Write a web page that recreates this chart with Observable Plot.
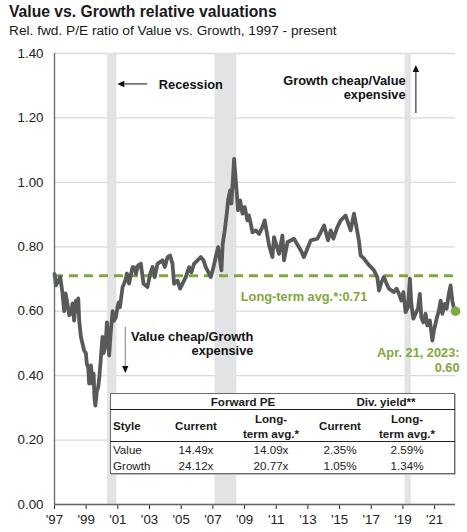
<!DOCTYPE html>
<html>
<head>
<meta charset="utf-8">
<script src="https://cdn.jsdelivr.net/npm/d3@7"></script>
<script src="https://cdn.jsdelivr.net/npm/@observablehq/plot@0.6"></script>
<style>
  html, body { margin: 0; padding: 0; background: #fff; }
  #wrap { position: relative; width: 467px; height: 532px; font-family: "Liberation Sans", Arial, sans-serif; color: #1a1a1a; overflow: hidden; }
  .title { position: absolute; left: 9px; top: 4px; font-size: 15.7px; font-weight: bold; line-height: 16px; white-space: nowrap; }
  .subtitle { position: absolute; left: 9px; top: 24px; font-size: 13.7px; line-height: 13px; white-space: nowrap; }
  #chart { position: absolute; left: 0; top: 38px; }
  .tbox { position: absolute; background: #fff; border: 1.5px solid #6a6a6a; box-sizing: border-box; box-shadow: 1px 1px 0 #bbb; }
  .tline { position: absolute; height: 0; border-top: 1px solid #222; }
  .cell { position: absolute; font-size: 11.6px; white-space: pre; color: #1a1a1a; }
  .b { font-weight: bold; }
</style>
</head>
<body>
<div id="wrap">
  <div class="title">Value vs. Growth relative valuations</div>
  <div class="subtitle">Rel. fwd. P/E ratio of Value vs. Growth, 1997 - present</div>
  <div id="chart"></div>
</div>
<script>
// ---- data (x positions are decimal years along the chart's axis) ----
const years = [
  1997.00,1997.09,1997.20,1997.36,1997.51,1997.61,1997.70,1997.78,1997.93,1998.03,1998.14,1998.24,1998.35,1998.45,1998.50,1998.56,1998.67,1998.77,1998.87,1998.98,
  1999.04,1999.13,1999.19,1999.30,1999.40,1999.47,1999.52,1999.58,1999.68,1999.76,1999.84,1999.93,2000.03,2000.10,2000.18,2000.24,2000.31,2000.40,2000.45,2000.56,
  2000.67,2000.75,2000.87,2000.98,2001.05,2001.13,2001.30,2001.40,2001.50,2001.57,2001.71,2001.85,2001.93,2002.07,2002.14,2002.28,2002.45,2002.62,2002.87,2003.04,
  2003.19,2003.33,2003.50,2003.82,2003.97,2004.14,2004.30,2004.45,2004.55,2004.77,2004.93,2005.08,2005.29,2005.50,2005.65,2005.81,2006.03,2006.24,2006.41,2006.55,
  2006.87,2007.04,2007.18,2007.33,2007.45,2007.54,2007.62,2007.75,2007.88,2007.96,2008.09,2008.17,2008.26,2008.34,2008.43,2008.51,2008.59,2008.72,2008.87,2009.01,
  2009.18,2009.28,2009.39,2009.50,2009.71,2009.92,2010.13,2010.27,2010.55,2010.76,2010.86,2011.18,2011.39,2011.49,2011.71,2012.12,2012.55,2012.75,2013.18,2013.60,
  2014.02,2014.27,2014.44,2014.61,2014.86,2015.07,2015.38,2015.70,2015.91,2016.22,2016.33,2016.54,2016.79,2017.17,2017.38,2017.49,2017.64,2017.80,2017.97,2018.12,
  2018.43,2018.60,2018.75,2018.90,2019.03,2019.17,2019.32,2019.44,2019.53,2019.66,2019.80,2019.95,2020.07,2020.16,2020.29,2020.43,2020.54,2020.70,2020.86,2020.96,
  2021.13,2021.27,2021.38,2021.49,2021.63,2021.76,2021.90,2022.01,2022.12,2022.22,2022.32
];
const ratios = [
  0.716,0.680,0.690,0.706,0.654,0.600,0.655,0.633,0.587,0.593,0.624,0.571,0.633,0.600,0.640,0.571,0.520,0.499,0.478,0.470,
  0.437,0.425,0.375,0.432,0.375,0.406,0.333,0.307,0.354,0.364,0.400,0.457,0.520,0.470,0.487,0.509,0.565,0.500,0.462,0.540,
  0.600,0.570,0.580,0.613,0.627,0.612,0.675,0.686,0.700,0.717,0.686,0.720,0.737,0.736,0.716,0.742,0.747,0.685,0.675,0.716,
  0.737,0.706,0.747,0.758,0.737,0.768,0.773,0.747,0.685,0.695,0.670,0.685,0.706,0.737,0.721,0.747,0.758,0.768,0.758,0.737,
  0.706,0.737,0.768,0.799,0.758,0.727,0.809,0.851,0.903,0.944,0.975,0.934,1.006,1.073,1.016,0.965,0.913,0.944,0.903,0.923,
  0.882,0.897,0.872,0.845,0.851,0.840,0.861,0.882,0.804,0.768,0.830,0.778,0.835,0.758,0.814,0.825,0.789,0.768,0.820,0.825,
  0.866,0.820,0.851,0.825,0.861,0.882,0.897,0.851,0.903,0.820,0.773,0.763,0.747,0.727,0.706,0.664,0.690,0.706,0.685,0.670,
  0.659,0.670,0.654,0.633,0.659,0.597,0.613,0.701,0.623,0.577,0.592,0.608,0.654,0.581,0.566,0.592,0.556,0.571,0.509,0.540,
  0.577,0.602,0.633,0.592,0.623,0.608,0.654,0.680,0.633,0.608,0.600
];
const recessionStart = [2000.35, 2007.14, 2019.13];
const recessionEnd   = [2000.94, 2008.51, 2019.53];
const longTermAvg = 0.71;
const xDomain = [1997, 2022.32];
const yDomain = [0, 1.4];
const xTicks = [1997,1999,2001,2003,2005,2007,2009,2011,2013,2015,2017,2019,2021];
const yTicks = [0,0.2,0.4,0.6,0.8,1.0,1.2,1.4];

const tableGroups = ["Forward PE", "Div. yield**"];
const tableHeaders = ["Style", "Current", "Long-\nterm avg.*", "Current", "Long-\nterm avg.*"];
const tableStyles = ["Value", "Growth"];
const tableValues = [["14.49x","14.09x","2.35%","2.59%"],["24.12x","20.77x","1.05%","1.34%"]];

const avgLabel = "Long-term avg.*:0.71";
const lastLabel = "Apr. 21, 2023:\n0.60";

// ---- build ----
const series = years.map((x, i) => ({x, y: ratios[i]}));
const recessions = recessionStart.map((s, i) => ({x1: s, x2: recessionEnd[i]}));
const last = series[series.length - 1];
const green = "#80a83c";
const lineColor = "#58595b";

const blackStart = [{x: 2003.59, y: 1.304, text: "Recession"}];
const blackEnd = [
  {x: 2019.17, y: 1.295, text: "Growth cheap/Value\nexpensive"},
  {x: 2009.56, y: 0.500, text: "Value cheap/Growth\nexpensive"}
];
const greenStart = [{x: 2008.76, y: 0.646, text: avgLabel}];
const greenEnd = [{x: 2022.58, y: 0.449, text: lastLabel}];
const arrows = [
  {x1: 2002.89, y1: 1.304, x2: 2001.0, y2: 1.304, stroke: "#222"},
  {x1: 2019.85, y1: 1.214, x2: 2019.85, y2: 1.363, stroke: "#222"},
  {x1: 2001.5, y1: 0.55, x2: 2001.5, y2: 0.407, stroke: "#888"}
];

function arrowMark(data) {
  return (index, scales) => {
    const g = d3.create("svg:g");
    for (const a of data) {
      const x1 = scales.x(a.x1), y1 = scales.y(a.y1), x2 = scales.x(a.x2), y2 = scales.y(a.y2);
      const ang = Math.atan2(y2 - y1, x2 - x1);
      const L = 7, W = 3.2;
      const bx = x2 - L * Math.cos(ang), by = y2 - L * Math.sin(ang);
      g.append("line").attr("x1", x1).attr("y1", y1).attr("x2", bx).attr("y2", by)
        .attr("stroke", a.stroke).attr("stroke-width", 1.1);
      g.append("path")
        .attr("d", `M${x2},${y2}L${bx + W * Math.sin(ang)},${by - W * Math.cos(ang)}L${bx - W * Math.sin(ang)},${by + W * Math.cos(ang)}Z`)
        .attr("fill", "#111");
    }
    return g.node();
  };
}

const textOpts = {x: "x", y: "y", text: "text", fontWeight: "bold", fontSize: 12.8, lineHeight: 1.12};

const chart = Plot.plot({
  width: 467,
  height: 494,
  marginLeft: 54,
  marginRight: 12,
  marginTop: 15,
  marginBottom: 28,
  style: {fontFamily: "Liberation Sans, Arial, sans-serif", fontSize: "13.3px", color: "#222", background: "transparent", overflow: "visible"},
  x: {domain: xDomain, ticks: xTicks, tickFormat: d => "'" + String(d).slice(2), tickSize: 5, tickPadding: 5, label: null},
  y: {domain: yDomain, ticks: yTicks, tickFormat: d3.format(".2f"), tickSize: 0, tickPadding: 11, label: null},
  marks: [
    Plot.ruleY(yTicks, {stroke: "#d9d9d9", strokeWidth: 1.3}),
    Plot.rect(recessions, {x1: "x1", x2: "x2", y1: yDomain[0], y2: yDomain[1], fill: "#e2e3e5"}),
    Plot.ruleY([longTermAvg], {stroke: green, strokeWidth: 3, strokeDasharray: "9,6"}),
    Plot.line(series, {x: "x", y: "y", stroke: lineColor, strokeWidth: 3.8, strokeLinejoin: "round"}),
    Plot.ruleX([xDomain[0]], {stroke: "#666", strokeWidth: 1.3}),
    Plot.ruleY([yDomain[0]], {stroke: "#666", strokeWidth: 1.3}),
    Plot.dot([last], {x: "x", y: "y", r: 4.8, fill: green}),
    Plot.text(blackStart, {...textOpts, textAnchor: "start", fill: "#111"}),
    Plot.text(blackEnd, {...textOpts, textAnchor: "end", fill: "#111"}),
    Plot.text(greenStart, {...textOpts, textAnchor: "start", fill: green}),
    Plot.text(greenEnd, {...textOpts, textAnchor: "end", fill: green, lineHeight: 1.16}),
    arrowMark(arrows)
  ]
});
document.getElementById("chart").appendChild(chart);

// ---- table overlay ----
const wrap = document.getElementById("wrap");
function add(cls, css, text) {
  const d = document.createElement("div");
  d.className = cls;
  Object.assign(d.style, css);
  if (text != null) d.textContent = text;
  wrap.appendChild(d);
  return d;
}
const T = {left: 110, top: 393, width: 345, height: 81};
add("tbox", {left: T.left + "px", top: T.top + "px", width: T.width + "px", height: T.height + "px"});
add("tline", {left: T.left + "px", top: "409px", width: T.width + "px"});
add("tline", {left: T.left + "px", top: "441px", width: T.width + "px"});
const groupCx = [243, 386];
const colCx = [196, 271, 340, 407];
function centerCell(text, cx, cy, bold, lh) {
  const lines = text.split("\n").length;
  const h = lines * lh;
  add("cell" + (bold ? " b" : ""), {left: (cx - 60) + "px", width: "120px", textAlign: "center", top: (cy - h / 2) + "px", lineHeight: lh + "px"}, text);
}
function leftCell(text, x, cy, bold, lh) {
  add("cell" + (bold ? " b" : ""), {left: x + "px", top: (cy - lh / 2) + "px", lineHeight: lh + "px"}, text);
}
tableGroups.forEach((g, i) => centerCell(g, groupCx[i], 402, true, 14));
leftCell(tableHeaders[0], 113, 425.5, true, 15);
tableHeaders.slice(1).forEach((h, i) => centerCell(h, colCx[i], 425.5, true, 15));
const rowCy = [449, 465];
tableStyles.forEach((s, r) => {
  leftCell(s, 113, rowCy[r], false, 15);
  tableValues[r].forEach((v, c) => centerCell(v, colCx[c], rowCy[r], false, 15));
});
</script>
</body>
</html>
